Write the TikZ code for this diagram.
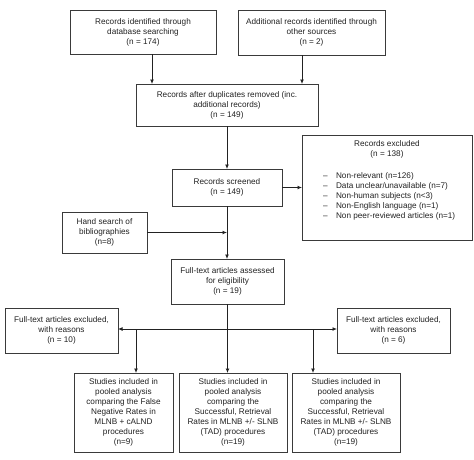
\documentclass[tikz,border=0pt]{standalone}
\usepackage{fontspec}
\setmainfont{Liberation Sans}
\usetikzlibrary{arrows.meta}
\definecolor{ink}{HTML}{222222}
\definecolor{edge}{HTML}{3A3A3A}
\tikzset{
  box/.style={draw=edge, line width=0.9pt, inner sep=0pt, outer sep=0pt, align=center, text=ink, font=\fontsize{8.2}{10}\selectfont},
  txt/.style={inner sep=0pt, outer sep=0pt, text=ink, font=\fontsize{8.2}{10}\selectfont},
  arr/.style={draw=ink, line width=0.9pt, -{Latex[length=4.5pt,width=4pt]}},
  ln/.style={draw=ink, line width=0.9pt}
}
\begin{document}
\begin{tikzpicture}[x=1pt,y=-1pt]
\useasboundingbox (0,0) rectangle (474,459);
\node[box, minimum width=146pt, minimum height=44pt] (b1) at (143,32) {Records identified through\\database searching\\(n = 174)};
\node[box, minimum width=147pt, minimum height=45pt] (b2) at (311.5,32.5) {Additional records identified through\\other sources\\(n = 2)};
\node[box, minimum width=182pt, minimum height=42pt] (b3) at (227,105) {Records after duplicates removed (inc.\\additional records)\\(n = 149)};
\node[box, minimum width=110pt, minimum height=37pt] (scr) at (227,187.5) {Records screened\\(n = 149)};
\node[box, minimum width=170pt, minimum height=105pt] (excl) at (387,187.5) {};
\node[txt, align=center, anchor=north] (excltxt) at (387,141) {Records excluded\\(n = 138)};
\node[txt, anchor=north west] (excllist) at (323,171) {\begin{tabular}{@{}l@{\hspace{8.5pt}}l@{}}
– & Non-relevant (n=126)\\
– & Data unclear/unavailable (n=7)\\
– & Non-human subjects (n<3)\\
– & Non-English language (n=1)\\
– & Non peer-reviewed articles (n=1)
\end{tabular}};
\node[box, minimum width=85pt, minimum height=41pt] (hand) at (104.5,232.5) {Hand search of\\bibliographies\\(n=8)};
\node[box, minimum width=113pt, minimum height=45pt] (ass) at (227.5,281.5) {Full-text articles assessed\\for eligibility\\(n = 19)};
\node[box, minimum width=113pt, minimum height=45pt] (ftl) at (61.5,330.5) {Full-text articles excluded,\\with reasons\\(n = 10)};
\node[box, minimum width=113pt, minimum height=45pt] (ftr) at (393.5,330.5) {Full-text articles excluded,\\with reasons\\(n = 6)};
\node[box, minimum width=99pt, minimum height=79pt] (s1) at (123.5,412.5) {Studies included in\\pooled analysis\\comparing the False\\Negative Rates in\\MLNB + cALND\\procedures\\(n=9)};
\node[box, minimum width=108pt, minimum height=79pt] (s2) at (233,412.5) {Studies included in\\pooled analysis\\comparing the\\Successful, Retrieval\\Rates in MLNB +/- SLNB\\(TAD) procedures\\(n=19)};
\node[box, minimum width=108pt, minimum height=79pt] (s3) at (346,412.5) {Studies included in\\pooled analysis\\comparing the\\Successful, Retrieval\\Rates in MLNB +/- SLNB\\(TAD) procedures\\(n=19)};
% connectors
\coordinate (a1) at (152,0);
\coordinate (a2) at (302,0);
\draw[arr] (a1 |- b1.south) -- (a1 |- b3.north);
\draw[arr] (a2 |- b2.south) -- (a2 |- b3.north);
\draw[arr] (b3.south -| scr.north) -- (scr.north);
\draw[arr] (scr.east) -- (excl.west |- scr.east);
\draw[arr] (scr.south) -- (ass.north -| scr.south);
\draw[arr] (hand.east) -- (hand.east -| scr.south);
\coordinate (hj) at (227.5,329);
\coordinate (jl) at (136,329);
\coordinate (jr) at (313,329);
\draw[arr] (ass.south) -- (ass.south |- s2.north);
\draw[arr] (hj) -- (ftl.east |- hj);
\draw[arr] (hj) -- (ftr.west |- hj);
\draw[arr] (jl) -- (jl |- s1.north);
\draw[arr] (jr) -- (jr |- s3.north);
\end{tikzpicture}
\end{document}
